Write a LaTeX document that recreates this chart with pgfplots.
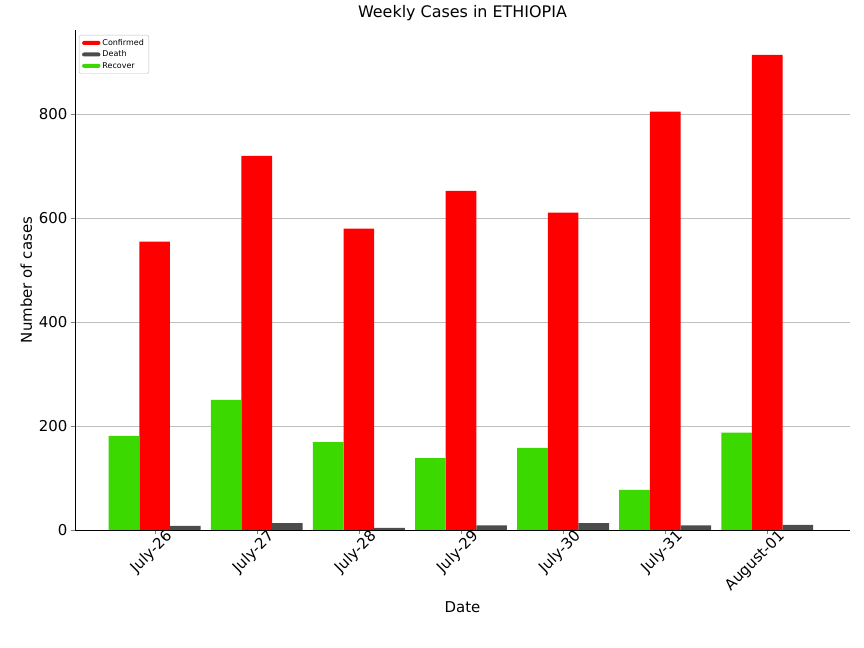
\documentclass[border=0pt]{standalone}
\usepackage{pgfplots}
\pgfplotsset{compat=1.18}
\usepackage{fontspec}
\setmainfont{DejaVu Sans}
\begin{document}
\begin{tikzpicture}
\begin{axis}[
  scale only axis, width=775bp, height=500bp,
  xmin=-0.78, xmax=6.81, ymin=0, ymax=961,
  xtick={0,...,6},
  xticklabels={July-26,July-27,July-28,July-29,July-30,July-31,August-01},
  xticklabel style={rotate=45, anchor=north east, font=\fontsize{15}{17}\selectfont, xshift=14bp},
  ytick={0,200,400,600,800},
  yticklabel style={font=\fontsize{15}{17}\selectfont},
  /pgf/number format/assume math mode=true,
  ymajorgrids, grid style={gray!50},
  axis x line*=bottom, axis y line*=left,
  tick align=outside, major tick length=4bp,
  xlabel={Date}, ylabel={Number of cases},
  label style={font=\fontsize{15}{17}\selectfont},
  title={Weekly Cases in ETHIOPIA}, title style={font=\fontsize{16}{18}\selectfont},
  legend style={at={(0.005,0.99)}, anchor=north west, font=\fontsize{8}{10}\selectfont, draw=gray!50, rounded corners=2pt},
  legend cell align=left,
  legend image code/.code={\fill[#1] (0cm,-0.07cm) rectangle (0.65cm,0.07cm);},
]
\addplot[ybar, bar width=0.3, bar shift=0, fill=red, draw=none] coordinates {(0,554)(1,719)(2,579)(3,652)(4,610)(5,804)(6,913)};
\addlegendentry{Confirmed}
\addplot[ybar, bar width=0.3, bar shift=0.3, fill=black!70, draw=none] coordinates {(0,8)(1,13)(2,4)(3,9)(4,13)(5,9)(6,10)};
\addlegendentry{Death}
\addplot[ybar, bar width=0.3, bar shift=-0.3, fill={rgb,255:red,59;green,217;blue,0}, draw=none] coordinates {(0,181)(1,250)(2,169)(3,138)(4,158)(5,77)(6,187)};
\addlegendentry{Recover}
\end{axis}
\pgfresetboundingbox
\path ([xshift=-75bp,yshift=-118bp]current axis.south west) rectangle ([xshift=14bp,yshift=30bp]current axis.north east);
\end{tikzpicture}
\end{document}
